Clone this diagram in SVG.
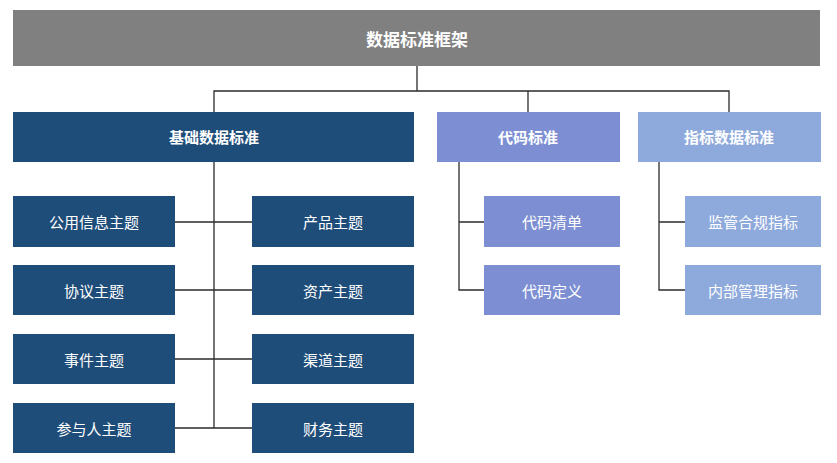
<svg xmlns="http://www.w3.org/2000/svg" width="837" height="463" viewBox="0 0 837 463">
<style>
text{font-family:"Noto Sans CJK SC","Microsoft YaHei",sans-serif;fill:#fff;text-anchor:middle;dominant-baseline:central;font-size:15px}
.b{font-weight:bold}
.t{font-size:17px;font-weight:bold}
.dark{fill:#1f4d79}
.code{fill:#7d8fd2}
.ind{fill:#8ea9db}
.conn{stroke:#2b2b2b;stroke-width:1.3;fill:none}
</style>
<rect width="837" height="463" fill="#fff"/>
<g id="root"><rect x="13" y="10" width="807" height="56" fill="#808080"/><text class="t" x="417" y="38">数据标准框架</text></g>
<g id="conn">
<path class="conn" d="M417 66V91M214 112V91H729V112M528 91V112"/>
<path class="conn" d="M214 162V428M175 222H252M175 290H252M175 359H252M175 428H252"/>
<path class="conn" d="M459 162V290H484M459 222H484"/>
<path class="conn" d="M659 162V290H685M659 222H685"/>
</g>
<g id="basic"><rect class="dark" x="13" y="112" width="401" height="50"/><text class="b" x="214" y="136">基础数据标准</text></g>
<g id="code"><rect class="code" x="437" y="112" width="183" height="50"/><text class="b" x="528" y="136">代码标准</text></g>
<g id="indicator"><rect class="ind" x="638" y="112" width="183" height="50"/><text class="b" x="729" y="136">指标数据标准</text></g>
<g id="n1"><rect class="dark" x="13" y="196" width="162" height="51"/><text x="94" y="221">公用信息主题</text></g>
<g id="n2"><rect class="dark" x="13" y="265" width="162" height="50"/><text x="94" y="290">协议主题</text></g>
<g id="n3"><rect class="dark" x="13" y="334" width="162" height="50"/><text x="94" y="359">事件主题</text></g>
<g id="n4"><rect class="dark" x="13" y="403" width="162" height="50"/><text x="94" y="428">参与人主题</text></g>
<g id="n5"><rect class="dark" x="252" y="196" width="162" height="51"/><text x="333" y="221">产品主题</text></g>
<g id="n6"><rect class="dark" x="252" y="265" width="162" height="50"/><text x="333" y="290">资产主题</text></g>
<g id="n7"><rect class="dark" x="252" y="334" width="162" height="50"/><text x="333" y="359">渠道主题</text></g>
<g id="n8"><rect class="dark" x="252" y="403" width="162" height="50"/><text x="333" y="428">财务主题</text></g>
<g id="c1"><rect class="code" x="484" y="196" width="136" height="51"/><text x="552" y="221">代码清单</text></g>
<g id="c2"><rect class="code" x="484" y="265" width="136" height="50"/><text x="552" y="290">代码定义</text></g>
<g id="i1"><rect class="ind" x="685" y="196" width="136" height="51"/><text x="753" y="221">监管合规指标</text></g>
<g id="i2"><rect class="ind" x="685" y="265" width="136" height="50"/><text x="753" y="290">内部管理指标</text></g>
</svg>
